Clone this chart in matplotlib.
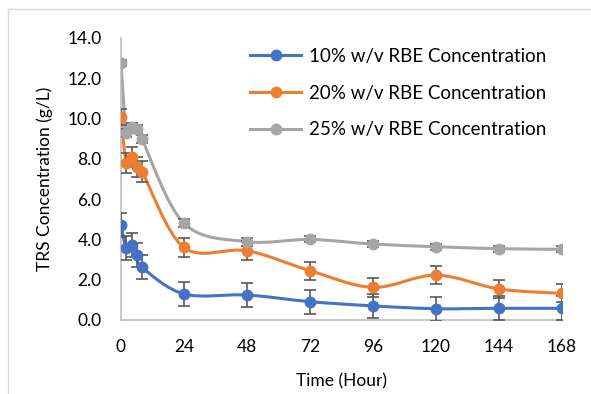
import numpy as np
import matplotlib
matplotlib.use('Agg')
import matplotlib.pyplot as plt
from matplotlib.path import Path
from matplotlib.patches import PathPatch
from matplotlib.lines import Line2D

plt.rcParams['font.family'] = ['Lato', 'DejaVu Sans']

time_h = [0, 2, 4, 6, 8, 24, 48, 72, 96, 120, 144, 168]
trs_10 = [4.72, 3.56, 3.72, 3.23, 2.62, 1.29, 1.24, 0.91, 0.70, 0.56, 0.58, 0.58]
trs_20 = [10.1, 7.78, 8.1, 7.6, 7.37, 3.6, 3.44, 2.45, 1.62, 2.23, 1.54, 1.32]
trs_25 = [12.75, 9.27, 9.6, 9.5, 8.97, 4.8, 3.89, 4.0, 3.77, 3.64, 3.54, 3.51]
err_10 = [0.58, 0.6, 0.6, 0.6, 0.6, 0.6, 0.6, 0.6, 0.6, 0.6, 0.6, 0.6]
err_20 = [0.4, 0.5, 0.5, 0.5, 0.5, 0.48, 0.46, 0.45, 0.47, 0.46, 0.45, 0.45]
err_25 = [0.15, 0.2, 0.2, 0.2, 0.2, 0.2, 0.2, 0.15, 0.15, 0.15, 0.15, 0.15]
labels = ['10% w/v RBE Concentration', '20% w/v RBE Concentration', '25% w/v RBE Concentration']
colors = ['#4472C4', '#ED7D31', '#A5A5A5']


def smooth_path(x, y):
    # Excel-style smoothed line as cubic bezier segments
    p = np.column_stack([x, y]).astype(float)
    n = len(p)
    verts = [p[0]]
    codes = [Path.MOVETO]
    for i in range(n - 1):
        p0 = p[i - 1] if i > 0 else p[i]
        p3 = p[i + 2] if i + 2 < n else p[i + 1]
        c1 = p[i] + (p[i + 1] - p0) / 6
        c2 = p[i + 1] - (p3 - p[i]) / 6
        verts += [c1, c2, p[i + 1]]
        codes += [Path.CURVE4] * 3
    return Path(verts, codes)


fig = plt.figure(figsize=(5.91, 3.94), dpi=100)
ax = fig.add_axes([121 / 591, 1 - 320 / 394, 441 / 591, 282 / 394])

series = [(trs_10, err_10), (trs_20, err_20), (trs_25, err_25)]
handles = []
for (vals, errs), c, lab in zip(series, colors, labels):
    ax.add_patch(PathPatch(smooth_path(time_h, vals), facecolor='none', edgecolor=c, lw=2.2, zorder=2))
    ax.errorbar(time_h, vals, yerr=errs, fmt='none', ecolor='#595959', elinewidth=1.2,
                capsize=4, capthick=1.2, zorder=3)
    ax.plot(time_h, vals, 'o', color=c, ms=7.5, zorder=4)
    handles.append(Line2D([], [], color=c, lw=2.2, marker='o', ms=7.5))

ax.set_xlim(0, 168)
ax.set_ylim(0, 14)
ax.set_xticks(range(0, 169, 24))
ax.set_yticks(np.arange(0, 14.1, 2))
ax.set_yticklabels([f'{v:.1f}' for v in np.arange(0, 14.1, 2)])
for s in ['top', 'right']:
    ax.spines[s].set_visible(False)
for s in ['left', 'bottom']:
    ax.spines[s].set_color('#BFBFBF')
    ax.spines[s].set_linewidth(1.2)
ax.tick_params(length=0, labelsize=12.5, colors='black', pad=14)
ax.set_xlabel('Time (Hour)', fontsize=12.5, labelpad=13)
ax.set_ylabel('TRS Concentration (g/L)', fontsize=12.5, labelpad=10)

ax.legend(handles, labels, loc='upper left', bbox_to_anchor=(0.255, 1.025), frameon=False,
          fontsize=13.5, handlelength=2.7, handletextpad=0.45, labelspacing=1.05)

fig.add_artist(Line2D([8 / 591, 1], [1 - 9 / 394] * 2, color='#D9D9D9', lw=1))
fig.add_artist(Line2D([8 / 591] * 2, [0, 1 - 9 / 394], color='#D9D9D9', lw=1))

fig.savefig('out.png', dpi=100)
